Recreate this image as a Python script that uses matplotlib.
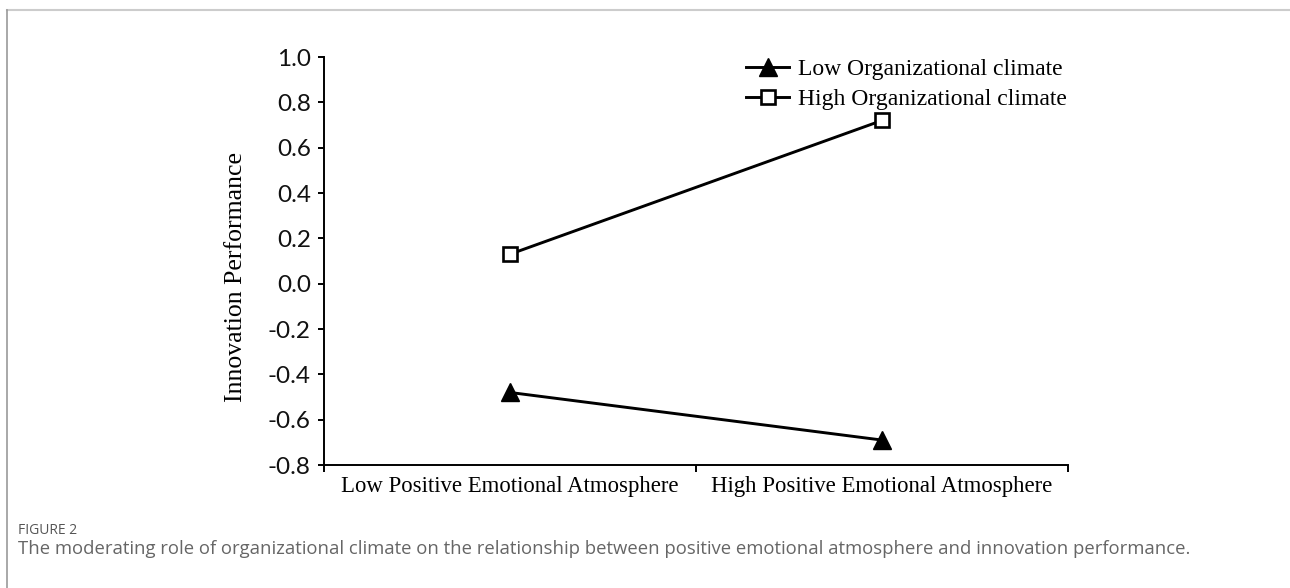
import matplotlib.pyplot as plt
from matplotlib.lines import Line2D

plt.rcParams['axes.unicode_minus'] = False

# data
categories = ['Low Positive Emotional Atmosphere', 'High Positive Emotional Atmosphere']
low_climate = [-0.48, -0.69]
high_climate = [0.13, 0.72]
series_names = ['Low Organizational climate', 'High Organizational climate']
y_ticks = [-0.8, -0.6, -0.4, -0.2, 0.0, 0.2, 0.4, 0.6, 0.8, 1.0]

W, H = 1290, 588
fig = plt.figure(figsize=(W / 100, H / 100), dpi=100)
ax = fig.add_axes([324 / W, 1 - 465 / H, (1068 - 324) / W, (465 - 57) / H])

xpos = [0.5, 1.5]
ax.plot(xpos, low_climate, color='black', lw=2.1, marker='^', ms=13,
        mfc='black', mec='black', label=series_names[0])
ax.plot(xpos, high_climate, color='black', lw=2.1, marker='s', ms=10,
        mfc='white', mec='black', mew=1.9, label=series_names[1])

ax.set_xlim(0, 2)
ax.set_ylim(-0.8, 1.0)
ax.spines['top'].set_visible(False)
ax.spines['right'].set_visible(False)
for s in ['left', 'bottom']:
    ax.spines[s].set_linewidth(1.4)

ax.set_yticks(y_ticks)
ax.set_yticklabels(['%.1f' % v for v in y_ticks], family='Lato', fontsize=17.5,
                   color='#111111')
ax.tick_params(axis='y', direction='out', length=4.5, width=1.4, pad=5)

ax.set_xticks([0, 1, 2])
ax.set_xticklabels(['', '', ''])
ax.set_xticks(xpos, minor=True)
ax.set_xticklabels(categories, minor=True, family='Liberation Serif', fontsize=16.4)
ax.tick_params(axis='x', which='major', direction='out', length=5, width=1.4)
ax.tick_params(axis='x', which='minor', length=0, pad=8)

ax.set_ylabel('Innovation Performance', family='Liberation Serif', fontsize=18.5)
ax.yaxis.set_label_coords(-0.104, 0.46)

ax.legend(loc='upper left', bbox_to_anchor=(0.552, 1.025), frameon=False,
          prop={'family': 'Liberation Serif', 'size': 17},
          handlelength=1.8, handletextpad=0.4, labelspacing=0.37, borderpad=0)

# frame and caption
fig.add_artist(Line2D([7 / W, 1], [1 - 10 / H] * 2, transform=fig.transFigure,
                      color='#cccccc', lw=1.5))
fig.add_artist(Line2D([7 / W] * 2, [0, 1 - 10 / H], transform=fig.transFigure,
                      color='#999999', lw=1.2))
fig.text(18 / W, 1 - 530 / H, 'FIGURE 2', family='Open Sans', fontsize=10,
         color='#555555', va='center')
fig.text(18 / W, 1 - 549 / H,
         'The moderating role of organizational climate on the relationship between '
         'positive emotional atmosphere and innovation performance.',
         family='Open Sans', fontsize=13.3, color='#666666', va='center')

fig.savefig('out.png', dpi=100)
